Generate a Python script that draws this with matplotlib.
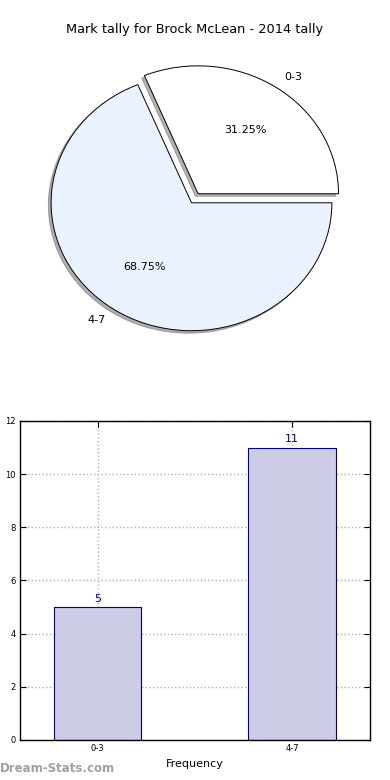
import matplotlib
matplotlib.use("Agg")
import matplotlib.pyplot as plt

# ── Data ──────────────────────────────────────────────────────────────────────
categories = ["0-3", "4-7"]
counts     = [5, 11]
pie_colors = ["#FFFFFF", "#EBF2FF"]
explode    = [0.085, 0.0]

title = "Mark tally for Brock McLean - 2014 tally"

fig = plt.figure(figsize=(3.9, 7.8), dpi=100)
fig.patch.set_facecolor("white")

# ── Pie ───────────────────────────────────────────────────────────────────────
ax1 = fig.add_axes([0.041, 0.535, 0.90, 0.41])
wedges, texts, autotexts = ax1.pie(
    counts, labels=categories, colors=pie_colors, explode=explode,
    autopct="%1.2f%%", shadow={"ox": -0.014, "oy": -0.014, "shade": 0.6},
    startangle=0,
    wedgeprops=dict(edgecolor="black", linewidth=0.7),
    textprops=dict(fontsize=8),
)
ax1.set_aspect("auto")
ax1.set_xlim(-1.25, 1.25)
ax1.set_ylim(-1.25, 1.25)
ax1.axis("off")
fig.text(0.5, 0.962, title, ha="center", va="center", fontsize=9.3)

# ── Bar ───────────────────────────────────────────────────────────────────────
ax2 = fig.add_axes([0.0513, 0.0513, 0.897, 0.409])
x = list(range(len(categories)))
bars = ax2.bar(x, counts, width=0.45, color="#CCCCE6", edgecolor="#000080",
               linewidth=0.8, zorder=2)
for xi, c in zip(x, counts):
    ax2.text(xi, c + 0.12, str(c), ha="center", va="bottom",
             fontsize=8, color="#000080")
ax2.set_xlim(-0.4, 1.4)
ax2.set_ylim(0, 12)
ax2.set_xticks(x)
ax2.set_xticklabels(categories)
ax2.set_yticks(range(0, 13, 2))
ax2.tick_params(direction="in", labelsize=6, length=4, top=True, right=True,
                pad=3)
ax2.grid(True, linestyle=":", color="#b0b0b0", linewidth=1.0, zorder=3)
for s in ax2.spines.values():
    s.set_linewidth(1.0)
ax2.set_xlabel("Frequency", fontsize=8, labelpad=4)
ax2.set_ylabel("Student Marks", fontsize=8)
ax2.yaxis.set_label_coords(-0.056, 0.5)

fig.text(0.0, 0.006, "Dream-Stats.com", ha="left", va="bottom", fontsize=8.5,
         color="#a0a0a0", fontweight="bold")

plt.savefig("out.png", dpi=100)
plt.close()
